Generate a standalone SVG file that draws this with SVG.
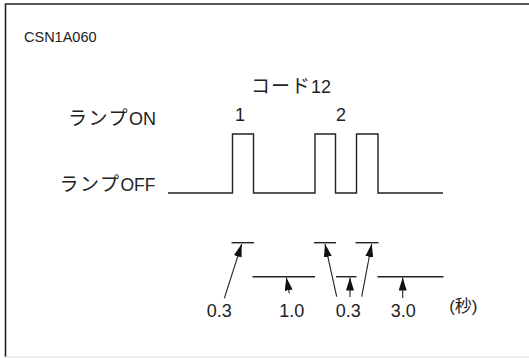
<svg xmlns="http://www.w3.org/2000/svg" width="529" height="358" viewBox="0 0 529 358">
<defs>
<style>
.t{font-family:"Liberation Sans","Noto Sans CJK JP",sans-serif;fill:#222}
.k{font-size:19px;letter-spacing:1.5px}
.w{fill:none;stroke:#222;stroke-width:1.4}
.a{stroke:#222;stroke-width:1.1;fill:none}
</style>
<marker id="ah" viewBox="0 0 13 8" refX="13" refY="4" markerWidth="13" markerHeight="8" markerUnits="userSpaceOnUse" orient="auto">
<path d="M0,0 L13,4 L0,8 Z" fill="#111"/>
</marker>
</defs>
<rect x="0" y="0" width="529" height="358" fill="#fff"/>
<g id="frame">
<line x1="5" y1="4" x2="529" y2="4" stroke="#222" stroke-width="1.6"/>
<line x1="5.5" y1="4" x2="5.5" y2="357" stroke="#222" stroke-width="1.6"/>
<line x1="5" y1="357" x2="529" y2="357" stroke="#ddd" stroke-width="1"/>
</g>
<g id="labels">
<text class="t" x="251" y="92.5" font-size="18"><tspan class="k" style="letter-spacing:1px">コード</tspan>12</text>
<text class="t" x="24" y="41.5" font-size="14.5">CSN1A060</text>
<text class="t" x="68" y="124.5" font-size="18"><tspan class="k">ランプ</tspan>ON</text>
<text class="t" x="59.5" y="191" font-size="17.5"><tspan class="k">ランプ</tspan>OFF</text>
<text class="t" x="240" y="120.7" font-size="18" text-anchor="middle">1</text>
<text class="t" x="341" y="120.7" font-size="18" text-anchor="middle">2</text>
</g>
<g id="waveform">
<polyline class="w" points="168,193 232.5,193 232.5,134 253.5,134 253.5,193 315,193 315,134 335.5,134 335.5,193 356.5,193 356.5,134 378,134 378,193 443,193"/>
</g>
<g id="bars">
<line class="w" x1="231.5" y1="242.7" x2="254" y2="242.7"/>
<line class="w" x1="252.5" y1="276.7" x2="315" y2="276.7"/>
<line class="w" x1="314" y1="242.7" x2="336" y2="242.7"/>
<line class="w" x1="336" y1="276.7" x2="356.5" y2="276.7"/>
<line class="w" x1="355.5" y1="242.7" x2="378.5" y2="242.7"/>
<line class="w" x1="377.5" y1="276.7" x2="443.5" y2="276.7"/>
</g>
<g id="connectors">
<line class="a" x1="224.3" y1="298.3" x2="241.7" y2="244" marker-end="url(#ah)"/>
<line class="a" x1="289.3" y1="293.5" x2="286.3" y2="277.5" marker-end="url(#ah)"/>
<line class="a" x1="336.7" y1="296.7" x2="325" y2="244" marker-end="url(#ah)"/>
<line class="a" x1="350" y1="297" x2="350" y2="277.5" marker-end="url(#ah)"/>
<line class="a" x1="361.7" y1="296.7" x2="371.7" y2="244" marker-end="url(#ah)"/>
<line class="a" x1="402.7" y1="298" x2="402.7" y2="277.5" marker-end="url(#ah)"/>
</g>
<g id="values">
<text class="t" x="219.3" y="316.7" font-size="18" text-anchor="middle">0.3</text>
<text class="t" x="291.7" y="316.7" font-size="18" text-anchor="middle">1.0</text>
<text class="t" x="348.3" y="316.7" font-size="18" text-anchor="middle">0.3</text>
<text class="t" x="403.3" y="316.7" font-size="18" text-anchor="middle">3.0</text>
<text class="t" x="463.3" y="311.5" font-size="17" text-anchor="middle">(秒)</text>
</g>
</svg>
